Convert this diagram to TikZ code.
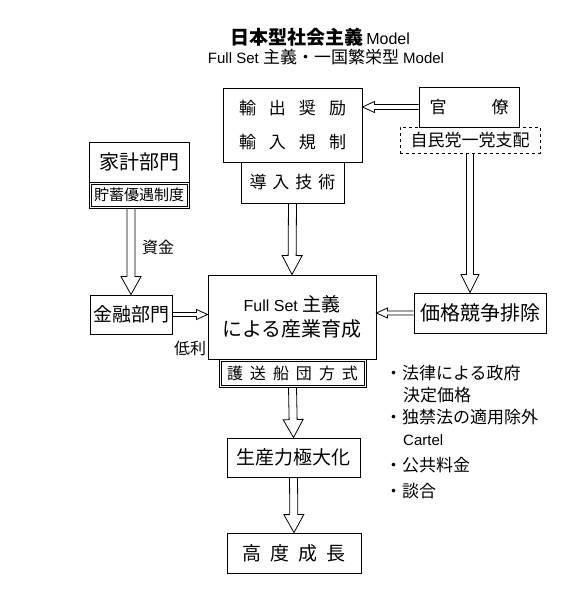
\documentclass[tikz,border=0pt]{standalone}
\usepackage{fontspec}
\setmainfont{Liberation Sans}
\newfontfamily\jp{Noto Sans CJK JP}
\usetikzlibrary{calc}

% hollow block arrow: from, to, shaft half width, head half width, head length
\newcommand{\hollowarrow}[5]{%
  \draw[arrowline] ($(#1)!#3!90:(#2)$)
    -- ($($(#2)!#5!(#1)$)!#3!-90:(#1)$)
    -- ($($(#2)!#5!(#1)$)!#4!-90:(#1)$)
    -- (#2)
    -- ($($(#2)!#5!(#1)$)!#4!90:(#1)$)
    -- ($($(#2)!#5!(#1)$)!#3!90:(#1)$)
    -- ($(#1)!#3!-90:(#2)$);}

\tikzset{
  box/.style={draw=black, line width=0.9pt, inner sep=0pt, align=center},
  dashbox/.style={box, dashed, line width=0.7pt},
  innerline/.style={draw=black, line width=0.7pt},
  arrowline/.style={draw=black, line width=0.8pt, line join=miter},
  plain/.style={inner sep=0pt, anchor=west},
}

\begin{document}
\begin{tikzpicture}[x=1pt,y=1pt]
\useasboundingbox (0,0) rectangle (569,-600);
% titles
\node (title) at (320,-37) {\fontsize{19}{21}\selectfont{\jp\bfseries 日本型社会主義}\,\fontsize{16}{18}\selectfont Model};
\node (subtitle) at (326,-57) {\fontsize{15}{17}\selectfont Full Set {\jp\fontsize{17}{19}\selectfont 主義・一国繁栄型} Model};
% top row
\node[box, minimum width=139, minimum height=74, font=\jp\fontsize{17}{30}\selectfont] (export) at (292.5,-125)
  {輸\hspace{13pt}出\hspace{13pt}奨\hspace{13pt}励\\[4pt]輸\hspace{13pt}入\hspace{13pt}規\hspace{13pt}制};
\node[box, minimum width=103, minimum height=41, font=\jp\fontsize{17}{20}\selectfont] (intro) at (292.5,-182.5)
  {導\hspace{6pt}入\hspace{6pt}技\hspace{6pt}術};
\node[box, minimum width=100, minimum height=40, font=\jp\fontsize{17}{20}\selectfont] (kanryo) at (469,-107)
  {官\hspace{45pt}僚};
\node[dashbox, minimum width=140, minimum height=26, font=\jp\fontsize{17}{20}\selectfont] (ldp) at (470,-140)
  {自民党一党支配};
% left column
\node[box, minimum width=100, minimum height=40, font=\jp\fontsize{20}{22}\selectfont] (household) at (139,-162)
  {家計部門};
\node[box, minimum width=100, minimum height=26, font=\jp\fontsize{15}{17}\selectfont] (savings) at (139,-195)
  {貯蓄優遇制度};
\draw[innerline] ([shift={(2.5,-2.5)}]savings.north west) rectangle ([shift={(-2.5,2.5)}]savings.south east);
\node[box, minimum width=82, minimum height=39, font=\jp\fontsize{19}{21}\selectfont] (kinyu) at (131,-314.5)
  {金融部門};
\node[font=\jp\fontsize{16}{18}\selectfont] (fund) at (158,-247) {資金};
\node[font=\jp\fontsize{16}{18}\selectfont] (lowrate) at (190,-348) {低利};
% middle column
\node[box, minimum width=168, minimum height=84] (center) at (292,-317)
  {\fontsize{16}{18}\selectfont Full Set {\jp\fontsize{19}{21}\selectfont 主義}\\[6pt]{\jp\fontsize{20}{22}\selectfont による産業育成}};
\node[box, minimum width=147, minimum height=28, font=\jp\fontsize{16}{18}\selectfont] (convoy) at (292.5,-373)
  {護\hspace{7pt}送\hspace{7pt}船\hspace{7pt}団\hspace{7pt}方\hspace{7pt}式};
\draw[innerline] ([shift={(2.5,-2.5)}]convoy.north west) rectangle ([shift={(-2.5,2.5)}]convoy.south east);
\node[box, minimum width=133, minimum height=39, font=\jp\fontsize{19}{21}\selectfont] (seisan) at (293.5,-457.5)
  {生産力極大化};
\node[box, minimum width=134, minimum height=40, font=\jp\fontsize{19}{21}\selectfont] (growth) at (294,-553)
  {高\hspace{9pt}度\hspace{9pt}成\hspace{9pt}長};
% right column
\node[box, minimum width=132, minimum height=40, font=\jp\fontsize{20}{22}\selectfont] (price) at (480,-313)
  {価格競争排除};
\node[plain, font=\jp\fontsize{17}{19}\selectfont] (law) at (385,-373) {・法律による政府};
\node[plain, font=\jp\fontsize{17}{19}\selectfont] (lawb) at (403,-395) {決定価格};
\node[plain, font=\jp\fontsize{17}{19}\selectfont] (antitrust) at (385,-417) {・独禁法の適用除外};
\node[plain, font=\fontsize{15}{17}\selectfont] (cartel) at (403,-440) {Cartel};
\node[plain, font=\jp\fontsize{17}{19}\selectfont] (tariff) at (385,-465) {・公共料金};
\node[plain, font=\jp\fontsize{17}{19}\selectfont] (dango) at (385,-491) {・談合};
% connectors
\coordinate (exportR) at (kanryo.west -| export.east);
\coordinate (pricetop) at (ldp.south |- price.north);
\coordinate (hhout) at (kinyu.north |- savings.south);
\coordinate (centerL) at (kinyu.east -| center.west);
\coordinate (centerR) at (price.west -| center.east);
\hollowarrow{kanryo.west}{exportR}{2.5pt}{5.5pt}{12pt}
\hollowarrow{intro.south}{center.north}{4pt}{10pt}{19pt}
\hollowarrow{ldp.south}{pricetop}{3.5pt}{9pt}{18pt}
\hollowarrow{hhout}{kinyu.north}{4pt}{10pt}{18pt}
\hollowarrow{kinyu.east}{centerL}{2pt}{5pt}{11pt}
\hollowarrow{price.west}{centerR}{2pt}{5pt}{11pt}
\hollowarrow{convoy.south}{seisan.north}{4pt}{10pt}{18pt}
\hollowarrow{seisan.south}{growth.north}{4pt}{10pt}{18pt}
\end{tikzpicture}
\end{document}
